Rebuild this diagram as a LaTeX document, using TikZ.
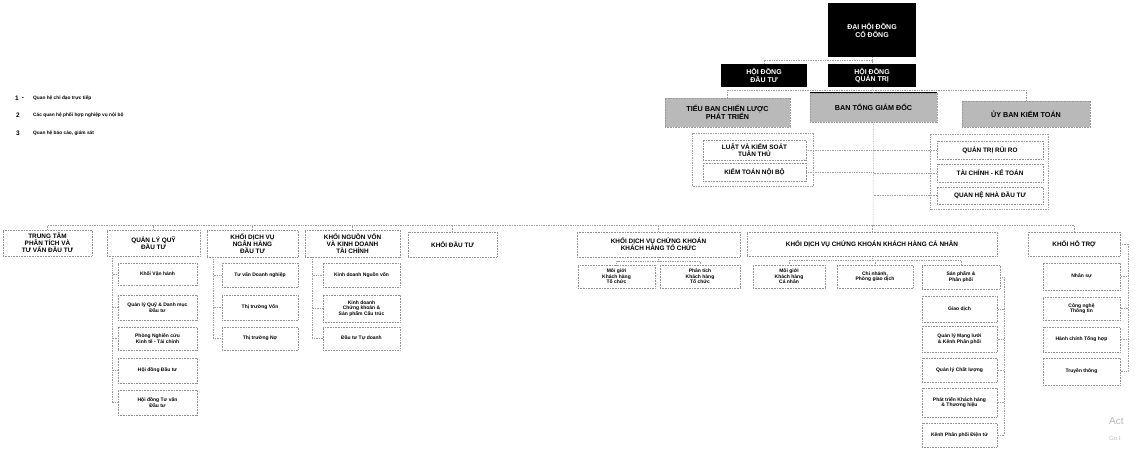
\documentclass[tikz,border=0pt]{standalone}
\usepackage{fontspec}
\setmainfont{Liberation Sans}
\tikzset{
 blk/.style={fill=black, text=white, font=\fontsize{7}{7.8}\selectfont\bfseries, align=center, inner sep=0pt},
 gry/.style={fill=gray!55, draw=gray!80, line width=0.8pt, dash pattern=on 1pt off 0.6pt, font=\fontsize{7.2}{8}\selectfont\bfseries, align=center, inner sep=0pt},
 dbx/.style={fill=white, draw=gray!85, line width=0.5pt, dash pattern=on 0.7pt off 0.9pt, font=\fontsize{6.4}{7}\selectfont\bfseries, align=center, inner sep=0pt},
 sbx/.style={dbx, font=\fontsize{5}{5.6}\selectfont\bfseries},
 conn/.style={draw=gray!75, line width=0.5pt, dash pattern=on 0.7pt off 1pt},
 leg/.style={anchor=west, inner sep=0pt, font=\fontsize{4.8}{5.2}\selectfont\bfseries},
 legi/.style={anchor=center, inner sep=0pt, font=\fontsize{6.5}{7}\selectfont\bfseries},
 wm/.style={anchor=west, inner sep=0pt, text=gray!55},
}
\newcommand\bx[7]{\node[#2, minimum width={(#5)-(#3)}, minimum height={(#6)-(#4)}] (#1) at ({((#3)+(#5))/2},{((#4)+(#6))/2}) {#7};}
\begin{document}
\begin{tikzpicture}[x=1pt,y=-1pt]
\useasboundingbox (0,0) rectangle (1138,461);
% legend
\node[legi] (i1) at (17,98) {1};
\node[legi] (i1d) at (23,98) {-};
\node[leg] (l1) at (33,98) {Quan hệ chỉ đạo trực tiếp};
\node[legi] (i2) at (18,115) {2};
\node[leg] (l2) at (33,115) {Các quan hệ phối hợp nghiệp vụ nội bộ};
\node[legi] (i3) at (18,133) {3};
\node[leg] (l3) at (33,133) {Quan hệ báo cáo, giám sát};
% top levels
\bx{dhcd}{blk}{828}{3}{916}{57}{ĐẠI HỘI ĐỒNG\\CỔ ĐÔNG}
\bx{hddt}{blk}{721}{64}{807}{87}{HỘI ĐỒNG\\ĐẦU TƯ}
\bx{hdqt}{blk}{828}{64}{916}{87}{HỘI ĐỒNG\\QUẢN TRỊ}
\bx{tbcl}{gry}{665}{98}{790}{127}{TIỂU BAN CHIẾN LƯỢC\\PHÁT TRIỂN}
\bx{btgd}{gry}{810}{93}{937}{122}{BAN TỔNG GIÁM ĐỐC}
\bx{ubkt}{gry}{962}{101}{1090}{127}{ỦY BAN KIỂM TOÁN}
\draw[line width=1.6pt] (btgd.north west) -- (btgd.north east);
\bx{lkst}{dbx}{703}{140}{806}{160}{LUẬT VÀ KIỂM SOÁT\\TUÂN THỦ}
\bx{ktnb}{dbx}{703}{163}{806}{181}{KIỂM TOÁN NỘI BỘ}
\bx{qtrr}{dbx}{937}{141}{1043}{159}{QUẢN TRỊ RỦI RO}
\bx{tckt}{dbx}{937}{164}{1043}{182}{TÀI CHÍNH - KẾ TOÁN}
\bx{qhnd}{dbx}{937}{187}{1043}{204}{QUAN HỆ NHÀ ĐẦU TƯ}
% top connectors
\coordinate (j1) at (873,60);
\coordinate (j2) at (873,90);
\draw[conn] (dhcd.south) -- (hdqt.north);
\draw[conn] (hddt.north) |- (j1);
\draw[conn] (hdqt.south) -- (btgd.north);
\draw[conn] (tbcl.north) |- (j2) -| (ubkt.north);
\draw[conn] ([shift={(-11,-7)}]lkst.north west) rectangle ([shift={(7,5)}]ktnb.south east);
\draw[conn] ([shift={(-7,-7)}]qtrr.north west) rectangle ([shift={(5,5)}]qhnd.south east);
\draw[conn] (lkst.east) -- (lkst.east -| btgd.south);
\draw[conn] (ktnb.east) -- (ktnb.east -| btgd.south);
\draw[conn] (qtrr.west) -- (qtrr.west -| btgd.south);
\draw[conn] (tckt.west) -- (tckt.west -| btgd.south);
\draw[conn] (qhnd.west) -- (qhnd.west -| btgd.south);
% bottom row headers
\bx{ttpt}{dbx}{3}{230}{92}{256}{TRUNG TÂM\\PHÂN TÍCH VÀ\\TƯ VẤN ĐẦU TƯ}
\bx{qlq}{dbx}{107}{230}{200}{256}{QUẢN LÝ QUỸ\\ĐẦU TƯ}
\bx{nhdt}{dbx}{207}{230}{298}{257}{KHỐI DỊCH VỤ\\NGÂN HÀNG\\ĐẦU TƯ}
\bx{nvkd}{dbx}{305}{230}{400}{257}{KHỐI NGUỒN VỐN\\VÀ KINH DOANH\\TÀI CHÍNH}
\bx{kdt}{dbx}{408}{232}{497}{257}{KHỐI ĐẦU TƯ}
\bx{ktc}{dbx}{577}{232}{740}{257}{KHỐI DỊCH VỤ CHỨNG KHOÁN\\KHÁCH HÀNG TỔ CHỨC}
\bx{kcn}{dbx}{747}{232}{997}{256}{KHỐI DỊCH VỤ CHỨNG KHOÁN KHÁCH HÀNG CÁ NHÂN}
\bx{kht}{dbx}{1028}{232}{1120}{256}{KHỐI HỖ TRỢ}
% bus
\coordinate (bus) at (873,225);
\draw[conn] (btgd.south) -- (bus);
\draw[conn] (ttpt.north) |- (bus);
\draw[conn] (kht.north) |- (bus);
\foreach \n in {qlq,nhdt,nvkd,kdt,ktc,kcn} \draw[conn] (\n.north) -- (\n.north |- bus);
% children: quan ly quy
\bx{q1}{sbx}{118}{263}{197}{285}{Khối Vận hành}
\bx{q2}{sbx}{118}{295}{197}{320}{Quản lý Quỹ \& Danh mục\\Đầu tư}
\bx{q3}{sbx}{118}{327}{197}{350}{Phòng Nghiên cứu\\Kinh tế - Tài chính}
\bx{q4}{sbx}{118}{358}{197}{383}{Hội đồng Đầu tư}
\bx{q5}{sbx}{118}{390}{197}{415}{Hội đồng Tư vấn\\Đầu tư}
\foreach \c in {q1,q2,q3,q4,q5} \draw[conn] ([xshift=5pt]qlq.south west) |- (\c.west);
% children: ngan hang dau tu
\bx{n1}{sbx}{222}{263}{298}{287}{Tư vấn Doanh nghiệp}
\bx{n2}{sbx}{222}{295}{298}{320}{Thị trường Vốn}
\bx{n3}{sbx}{222}{327}{298}{350}{Thị trường Nợ}
\foreach \c in {n1,n2,n3} \draw[conn] ([xshift=6pt]nhdt.south west) |- (\c.west);
% children: nguon von
\bx{v1}{sbx}{323}{263}{400}{287}{Kinh doanh Nguồn vốn}
\bx{v2}{sbx}{323}{295}{400}{322}{Kinh doanh\\Chứng khoán \&\\Sản phẩm Cấu trúc}
\bx{v3}{sbx}{323}{327}{400}{350}{Đầu tư Tự doanh}
\foreach \c in {v1,v2,v3} \draw[conn] ([xshift=7pt]nvkd.south west) |- (\c.west);
% children: to chuc
\bx{t1}{sbx}{578}{265}{655}{288}{Môi giới\\Khách hàng\\Tổ chức}
\bx{t2}{sbx}{660}{265}{740}{288}{Phân tích\\Khách hàng\\Tổ chức}
\foreach \c in {t1,t2} \draw[conn] (ktc.south) -- ++(0,4) -| (\c.north);
% children: ca nhan
\bx{c1}{sbx}{753}{265}{825}{288}{Môi giới\\Khách hàng\\Cá nhân}
\bx{c2}{sbx}{837}{265}{913}{288}{Chi nhánh,\\Phòng giao dịch}
\bx{c3}{sbx}{922}{265}{1000}{289}{Sản phẩm \&\\Phân phối}
\foreach \c in {c1,c2,c3} \draw[conn] (kcn.south) -- ++(0,4) -| (\c.north);
\bx{c4}{sbx}{922}{296}{997}{322}{Giao dịch}
\bx{c5}{sbx}{922}{326}{997}{352}{Quản lý Mạng lưới\\\& Kênh Phân phối}
\bx{c6}{sbx}{922}{358}{997}{382}{Quản lý Chất lượng}
\bx{c7}{sbx}{922}{388}{997}{417}{Phát triển Khách hàng\\\& Thương hiệu}
\bx{c8}{sbx}{922}{423}{997}{447}{Kênh Phân phối Điện tử}
\draw[conn] (c3.east) -- ++(4,0);
\foreach \c in {c4,c5,c6,c7,c8} \draw[conn] ([xshift=4pt]c3.east) |- (\c.east);
% children: ho tro
\bx{h1}{sbx}{1043}{263}{1120}{290}{Nhân sự}
\bx{h2}{sbx}{1043}{297}{1120}{320}{Công nghệ\\Thông tin}
\bx{h3}{sbx}{1043}{327}{1120}{352}{Hành chính Tổng hợp}
\bx{h4}{sbx}{1043}{358}{1120}{385}{Truyền thông}
\draw[conn] (kht.east) -- ++(8,0);
\foreach \c in {h1,h2,h3,h4} \draw[conn] ([xshift=8pt]kht.east) |- (\c.east);
% watermark
\node[wm, font=\fontsize{10}{11}\selectfont] (w1) at (1109,421) {Act};
\node[wm, font=\fontsize{6}{7}\selectfont] (w2) at (1109,438) {Go t};
\end{tikzpicture}
\end{document}
